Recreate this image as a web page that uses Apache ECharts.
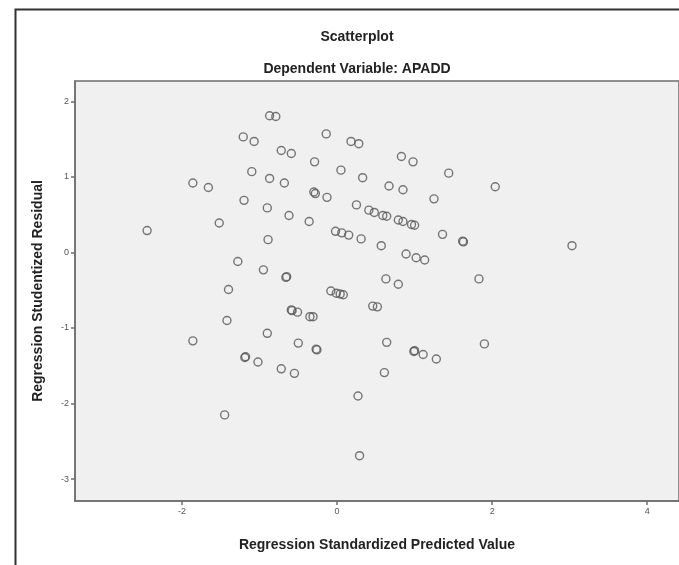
<!DOCTYPE html>
<html>
<head>
<meta charset="utf-8">
<title>Scatterplot</title>
<script src="https://cdn.jsdelivr.net/npm/echarts@6/dist/echarts.min.js"></script>
<style>
    html, body { margin: 0; padding: 0; background: #fff; }
    #chart-1 { width: 679px; height: 565px; }
</style>
</head>
<body>
<div id="chart-1"></div>
<script>
// predicted value (x) / studentized residual (y)
var predicted = [
    -0.87, -0.79, -1.21, -1.07, -0.14, 0.18, 0.28, -0.72, -0.59, -0.29,
    0.05, -1.10, -0.87, -0.68, -1.86, -1.66, 0.33, 0.67, -0.30, -0.28,
    -0.13, -1.20, -0.90, -0.62, 0.25, 0.41, 0.48, 0.59, 0.64, 0.79,
    0.85, 0.96, 1.00, -1.52, -0.36, -2.45, -0.02, 0.06, 0.15, 0.31,
    0.57, -0.89, -1.28, -0.95, -0.66, -0.65, -1.40, 0.63, 0.79, -0.08,
    -0.01, 0.08, 0.04, 0.83, 0.98, 1.44, 0.85, 2.04, 1.25, 1.36,
    1.62, 1.63, 3.03, 0.89, 1.02, 1.13, 1.83, 0.46, 0.52, -0.58,
    -0.59, -0.51, -0.35, -0.31, -1.42, -0.90, -1.86, -0.50, -0.26, -0.27,
    0.64, -1.19, -1.18, -1.02, -0.72, -0.55, 0.61, 0.27, -1.45, 0.29,
    0.99, 1.00, 1.11, 1.28, 1.90
];
var residual = [
    1.81, 1.80, 1.53, 1.47, 1.57, 1.47, 1.44, 1.35, 1.31, 1.20,
    1.09, 1.07, 0.98, 0.92, 0.92, 0.86, 0.99, 0.88, 0.80, 0.78,
    0.73, 0.69, 0.59, 0.49, 0.63, 0.56, 0.53, 0.49, 0.48, 0.43,
    0.41, 0.37, 0.36, 0.39, 0.41, 0.29, 0.28, 0.26, 0.23, 0.18,
    0.09, 0.17, -0.12, -0.23, -0.33, -0.32, -0.49, -0.35, -0.42, -0.51,
    -0.54, -0.56, -0.55, 1.27, 1.20, 1.05, 0.83, 0.87, 0.71, 0.24,
    0.15, 0.14, 0.09, -0.02, -0.07, -0.10, -0.35, -0.71, -0.72, -0.77,
    -0.76, -0.79, -0.85, -0.85, -0.90, -1.07, -1.17, -1.20, -1.29, -1.28,
    -1.19, -1.39, -1.38, -1.45, -1.54, -1.60, -1.59, -1.90, -2.15, -2.69,
    -1.31, -1.30, -1.35, -1.41, -1.21
];
var xTicks = [-2, 0, 2, 4];
var yTicks = [-3, -2, -1, 0, 1, 2];

initChart();

function initChart() {
    var dom = document.getElementById("chart-1");
    var myChart = echarts.init(dom);
    var font = 'Arial, "Liberation Sans", sans-serif';

    var points = [];
    for (var i = 0; i < predicted.length; i++) {
        points.push([predicted[i], residual[i]]);
    }

    var option = {
        animation: false,
        backgroundColor: '#fff',
        textStyle: {
            fontFamily: font
        },
        title: [{
            text: 'Scatterplot',
            left: 352,
            top: 25,
            textAlign: 'center',
            textStyle: {
                color: '#222',
                fontSize: 14,
                fontWeight: 'bold',
                fontFamily: font
            }
        }, {
            text: 'Dependent Variable: APADD',
            left: 352,
            top: 57,
            textAlign: 'center',
            textStyle: {
                color: '#222',
                fontSize: 14,
                fontWeight: 'bold',
                fontFamily: font
            }
        }],
        // outer chart frame
        graphic: [{
            type: 'rect',
            left: 13,
            top: 7,
            shape: { width: 700, height: 600 },
            style: { fill: 'none', stroke: '#333', lineWidth: 2 },
            silent: true
        }],
        grid: {
            left: 75,
            top: 81,
            right: -5,
            bottom: 64,
            show: true,
            backgroundColor: '#f0f0f0',
            borderColor: '#6e6e6e',
            borderWidth: 1.5
        },
        xAxis: {
            type: 'value',
            min: -3.38,
            max: 4.41,
            name: 'Regression Standardized Predicted Value',
            nameLocation: 'middle',
            nameGap: 37,
            nameTextStyle: {
                color: '#222',
                fontSize: 14,
                fontWeight: 'bold',
                fontFamily: font
            },
            splitLine: { show: false },
            axisLine: {
                onZero: false,
                lineStyle: { color: '#6e6e6e', width: 1.5 }
            },
            axisTick: {
                customValues: xTicks,
                length: 4,
                lineStyle: { color: '#6e6e6e', width: 1.5 }
            },
            axisLabel: {
                customValues: xTicks,
                color: '#555',
                fontSize: 9,
                margin: 6
            }
        },
        yAxis: {
            type: 'value',
            min: -3.29,
            max: 2.27,
            name: 'Regression Studentized Residual',
            nameLocation: 'middle',
            nameGap: 30,
            nameTextStyle: {
                color: '#222',
                fontSize: 14,
                fontWeight: 'bold',
                fontFamily: font
            },
            splitLine: { show: false },
            axisLine: {
                show: true,
                onZero: false,
                lineStyle: { color: '#6e6e6e', width: 1.5 }
            },
            axisTick: {
                show: true,
                customValues: yTicks,
                length: 4,
                lineStyle: { color: '#6e6e6e', width: 1.5 }
            },
            axisLabel: {
                customValues: yTicks,
                color: '#555',
                fontSize: 9,
                margin: 6
            }
        },
        series: [{
            type: 'scatter',
            symbol: 'circle',
            symbolSize: 8,
            data: points,
            itemStyle: {
                color: 'rgba(0,0,0,0)',
                borderColor: '#555',
                borderWidth: 1.4
            }
        }]
    };

    if (option && typeof option === "object") {
        myChart.setOption(option, true);
        window.onresize = myChart.resize;
    }
}
</script>
</body>
</html>
